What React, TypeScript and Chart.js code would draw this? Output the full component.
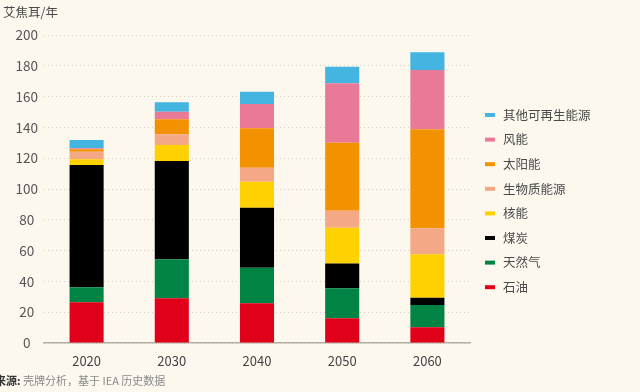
import React, { useEffect, useRef } from "react";
import { Chart, registerables } from "chart.js";

Chart.register(...registerables);

const categories = ["2020", "2030", "2040", "2050", "2060"];
const oil = [26.4, 29, 25.8, 16, 10.2];
const gas = [9.8, 25.4, 23.1, 19.5, 14.5];
const coal = [79.4, 63.8, 39, 16.2, 4.7];
const nuclear = [3.7, 10.4, 16.8, 23.2, 28.2];
const biomass = [4.9, 6.9, 9.1, 11, 16.9];
const solar = [1.6, 9.8, 25.6, 44.2, 64.3];
const wind = [0.6, 4.9, 15.8, 38.5, 38.5];
const otherRenew = [5.4, 6.1, 8, 10.8, 11.5];
const yTicks = [0, 20, 40, 60, 80, 100, 120, 140, 160, 180, 200];

const seriesNames = ["石油", "天然气", "煤炭", "核能", "生物质能源", "太阳能", "风能", "其他可再生能源"];
const seriesColors = ["#e1001a", "#008446", "#000000", "#ffd100", "#f4a886", "#f39200", "#e97a97", "#43b5e0"];

const BG = "#fdf8ee";
const FONT = "'Noto Sans CJK SC', 'Noto Sans', sans-serif";

export default function App() {
  const ref = useRef<HTMLCanvasElement | null>(null);

  useEffect(() => {
    document.body.style.margin = "0";
    document.body.style.background = BG;
    const values = [oil, gas, coal, nuclear, biomass, solar, wind, otherRenew];
    const bgPlugin = {
      id: "bg",
      beforeDraw(chart: any) {
        const c = chart.ctx;
        c.save();
        c.fillStyle = BG;
        c.fillRect(0, 0, chart.width, chart.height);
        c.restore();
      },
      afterDraw(chart: any) {
        const c = chart.ctx;
        c.save();
        // title
        c.fillStyle = "#4a4a4a";
        c.font = `12.5px ${FONT}`;
        c.textBaseline = "middle";
        c.textAlign = "left";
        c.fillText("艾焦耳/年", 3, 12);
        // legend
        const ds = chart.data.datasets;
        let y = 115;
        for (let i = ds.length - 1; i >= 0; i--) {
          c.fillStyle = ds[i].backgroundColor;
          c.fillRect(485, y - 2, 10, 4);
          c.fillStyle = "#4a4a4a";
          c.font = `12.5px ${FONT}`;
          c.fillText(ds[i].label, 503, y);
          y += 24.6;
        }
        // footer
        c.font = `bold 11px ${FONT}`;
        c.fillStyle = "#333333";
        const src = "来源:";
        c.fillText(src, -5, 381);
        const w = c.measureText(src).width;
        c.font = `11px ${FONT}`;
        c.fillStyle = "#8a8a8a";
        c.fillText(" 壳牌分析，基于 IEA 历史数据", -5 + w, 381);
        c.restore();
      },
    };

    const chart = new Chart(ref.current as HTMLCanvasElement, {
      type: "bar",
      data: {
        labels: categories,
        datasets: seriesNames.map((name, i) => ({
          label: name,
          data: values[i],
          backgroundColor: seriesColors[i],
          borderWidth: 0,
          barPercentage: 0.8,
          categoryPercentage: 0.5,
        })),
      },
      options: {
        animation: false,
        responsive: false,
        layout: { padding: { top: 35, right: 170, bottom: 21, left: 0 } },
        plugins: { legend: { display: false }, tooltip: { enabled: false } },
        scales: {
          x: {
            stacked: true,
            grid: { display: false, drawTicks: false },
            border: { display: true, color: "#b5afa5", width: 1.5 },
            ticks: { color: "#444444", font: { family: FONT, size: 13 }, padding: 10 },
            afterFit(scale: any) {
              scale.height = 28;
            },
          },
          y: {
            stacked: true,
            min: 0,
            max: 200,
            afterBuildTicks(scale: any) {
              scale.ticks = yTicks.map((v) => ({ value: v }));
            },
            grid: {
              color: "#d6cfc3",
              lineWidth: 1,
              drawTicks: false,
            },
            border: { display: false, dash: [1, 3] },
            ticks: {
              color: "#555555",
              font: { family: FONT, size: 13.5 },
              crossAlign: "center",
              padding: 6,
            },
            afterFit(scale: any) {
              scale.width = 44;
            },
          },
        },
      } as any,
      plugins: [bgPlugin],
    });
    return () => chart.destroy();
  }, []);

  return (
    <div style={{ width: 640, height: 392, background: BG }}>
      <canvas ref={ref} width={640} height={392} style={{ display: "block" }} />
    </div>
  );
}
